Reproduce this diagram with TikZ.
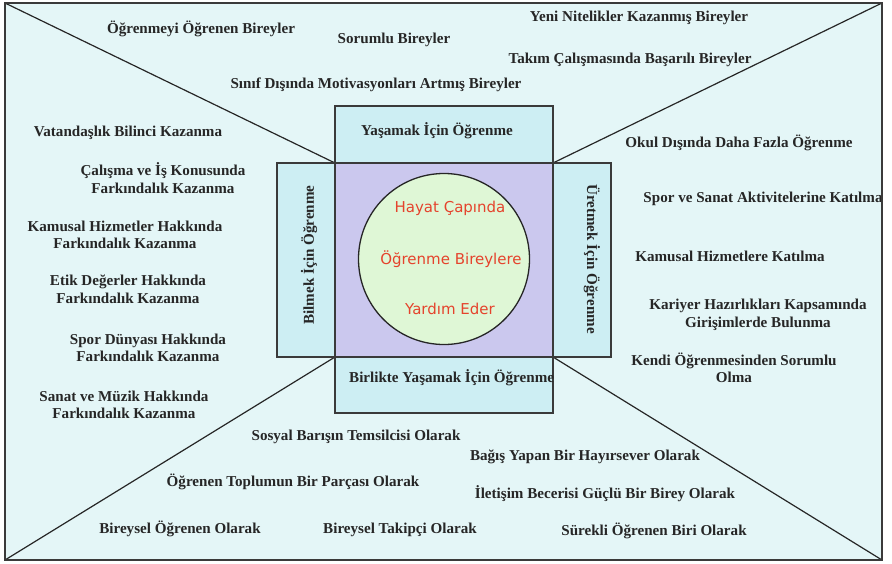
\documentclass[tikz,border=0pt]{standalone}
\usepackage{fontspec}
\setmainfont{Liberation Serif}
\newfontfamily\handfont{DejaVu Sans}
\definecolor{pagebg}{HTML}{E4F6F7}
\definecolor{armfill}{HTML}{CDEEF3}
\definecolor{corefill}{HTML}{CBC8EE}
\definecolor{hubfill}{HTML}{DFF7D6}
\definecolor{inkdark}{HTML}{262626}
\definecolor{inkred}{HTML}{E5432C}
\definecolor{framegray}{HTML}{3A3A3A}
\begin{document}
\begin{tikzpicture}[x=1pt,y=-1pt,
  lbl/.style={font=\fontsize{15.1}{17.5}\selectfont\bfseries, text=inkdark, align=center, inner sep=0pt},
  armbox/.style={draw=framegray, line width=1.4pt, fill=armfill},
  hubtxt/.style={font=\handfont\fontsize{15}{17}\selectfont, text=inkred, inner sep=0pt},
  spoke/.style={draw=black!85, line width=1.2pt}]
\useasboundingbox (0,0) rectangle (892,563);
% page background
\fill[pagebg] (5,3) rectangle (882,560);
% frame corners and inner square corners
\coordinate (ftl) at (5,3);
\coordinate (ftr) at (882,3);
\coordinate (fbl) at (5,560);
\coordinate (fbr) at (882,560);
\coordinate (stl) at (335,163);
\coordinate (str) at (553,163);
\coordinate (sbl) at (335,357);
\coordinate (sbr) at (553,357);
% spokes from frame corners to the square
\draw[spoke] (ftl) -- (stl);
\draw[spoke] (ftr) -- (str);
\draw[spoke] (fbl) -- (sbl);
\draw[spoke] (fbr) -- (sbr);
% four arms around the core
\draw[armbox] (335,106) rectangle (553,163);
\draw[armbox] (335,357) rectangle (553,413);
\draw[armbox] (277,163) rectangle (335,357);
\draw[armbox] (553,163) rectangle (611,357);
% core square and circle
\draw[draw=framegray, line width=1.4pt, fill=corefill] (stl) rectangle (sbr);
\node[draw=black!85, line width=1.3pt, fill=hubfill, circle, minimum size=171pt, inner sep=0pt] (hub) at (444,259) {};
\node[hubtxt] (h1) at (450,208) {Hayat Çapında};
\node[hubtxt] (h2) at (451,259) {Öğrenme Bireylere};
\node[hubtxt] (h3) at (450,309) {Yardım Eder};
% arm labels
\node[lbl] (armtop) at (437,131) {Yaşamak İçin Öğrenme};
\node[lbl, anchor=west] (armbot) at (349,378) {Birlikte Yaşamak İçin Öğrenme};
\node[lbl, rotate=90] (armleft) at (309,255) {Bilmek İçin Öğrenme};
\node[lbl, rotate=-90] (armright) at (592,259) {Üretmek İçin Öğrenme};
% upper sector
\node[lbl] (u1) at (201,29) {Öğrenmeyi Öğrenen Bireyler};
\node[lbl] (u2) at (394,40) {Sorumlu Bireyler};
\node[lbl] (u3) at (639,18) {Yeni Nitelikler Kazanmış Bireyler};
\node[lbl] (u4) at (630,60) {Takım Çalışmasında Başarılı Bireyler};
\node[lbl] (u5) at (376,85) {Sınıf Dışında Motivasyonları Artmış Bireyler};
% left sector
\node[lbl] (l1) at (128,133) {Vatandaşlık Bilinci Kazanma};
\node[lbl] (l2) at (163,178) {Çalışma ve İş Konusunda\\Farkındalık Kazanma};
\node[lbl] (l3) at (125,235) {Kamusal Hizmetler Hakkında\\Farkındalık Kazanma};
\node[lbl] (l4) at (128,289) {Etik Değerler Hakkında\\Farkındalık Kazanma};
\node[lbl] (l5) at (148,348) {Spor Dünyası Hakkında\\Farkındalık Kazanma};
\node[lbl] (l6) at (124,405) {Sanat ve Müzik Hakkında\\Farkındalık Kazanma};
% right sector
\node[lbl] (r1) at (739,143) {Okul Dışında Daha Fazla Öğrenme};
\node[lbl] (r2) at (763,199) {Spor ve Sanat Aktivitelerine Katılma};
\node[lbl] (r3) at (730,256) {Kamusal Hizmetlere Katılma};
\node[lbl] (r4) at (758,315) {Kariyer Hazırlıkları Kapsamında\\Girişimlerde Bulunma};
\node[lbl] (r5) at (734,368) {Kendi Öğrenmesinden Sorumlu\\Olma};
% lower sector
\node[lbl] (b1) at (356,437) {Sosyal Barışın Temsilcisi Olarak};
\node[lbl] (b2) at (585,457) {Bağış Yapan Bir Hayırsever Olarak};
\node[lbl] (b3) at (293,482) {Öğrenen Toplumun Bir Parçası Olarak};
\node[lbl] (b4) at (605,494) {İletişim Becerisi Güçlü Bir Birey Olarak};
\node[lbl] (b5) at (180,529) {Bireysel Öğrenen Olarak};
\node[lbl] (b6) at (400,530) {Bireysel Takipçi Olarak};
\node[lbl] (b7) at (654,531) {Sürekli Öğrenen Biri Olarak};
% outer frame
\draw[draw=framegray, line width=2pt] (ftl) rectangle (fbr);
\end{tikzpicture}
\end{document}
